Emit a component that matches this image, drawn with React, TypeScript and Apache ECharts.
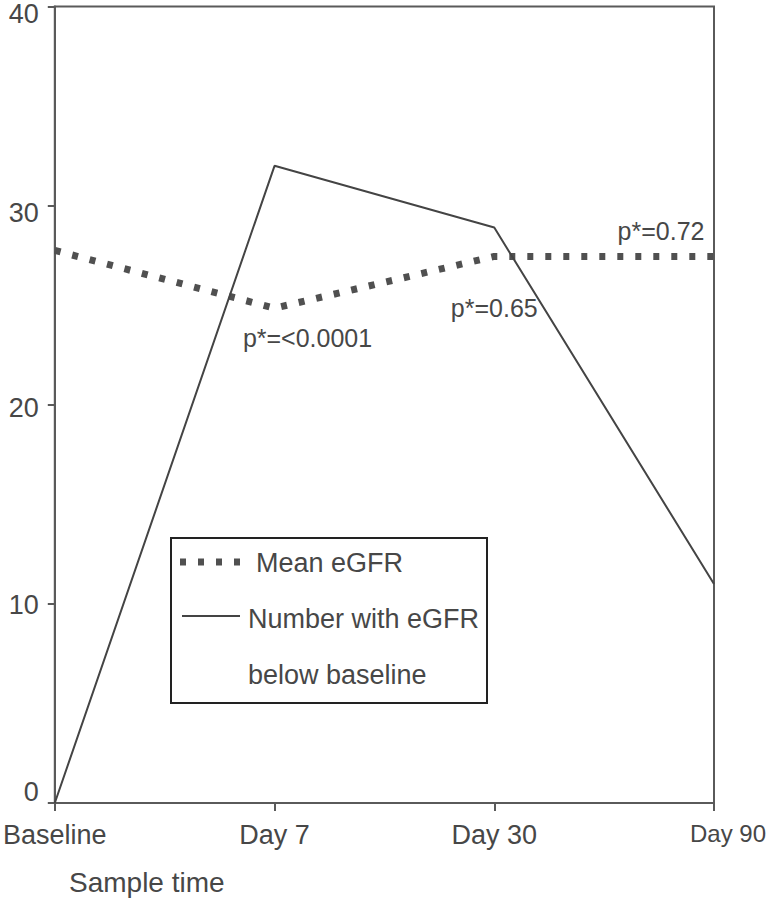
import React, { useEffect, useRef } from "react";
import * as echarts from "echarts";

const categories = ["Baseline", "Day 7", "Day 30", "Day 90"];
const meanEGFR = [27.75, 24.85, 27.45, 27.45];
const numberBelowBaseline = [0, 32, 28.9, 11];
const pLabels = ["", "p*=<0.0001", "p*=0.65", "p*=0.72"];
const yTicks = [0, 10, 20, 30, 40];
const xAxisTitle = "Sample time";

const FONT = "Liberation Sans, Arial, Helvetica, sans-serif";
const TEXT = "#474747";
const AXIS = "#5a5a5a";

export default function App() {
  const ref = useRef<HTMLDivElement>(null);
  useEffect(() => {
    if (!ref.current) return;
    const chart = echarts.init(ref.current, null, { renderer: "svg" });
    const labelOffsets: Record<number, number[]> = { 1: [33, 30], 2: [0, 52], 3: [-53, -25] };
    const yPad: Record<number, string> = { 0: "d", 10: "c", 20: "b", 30: "a", 40: "a" };
    chart.setOption({
      animation: false,
      textStyle: { fontFamily: FONT },
      grid: {
        left: 52,
        right: 56,
        top: 6,
        bottom: 97,
        show: true,
        borderColor: AXIS,
        borderWidth: 2,
        backgroundColor: "transparent",
      },
      xAxis: {
        type: "category",
        boundaryGap: false,
        data: categories.map((c, i) =>
          i === categories.length - 1
            ? { value: c, textStyle: { fontSize: 24, padding: [0, 0, 0, 28] } }
            : c
        ),
        axisLine: { lineStyle: { color: AXIS, width: 2 } },
        axisTick: { show: true, length: 8, lineStyle: { color: AXIS, width: 2 } },
        axisLabel: { fontSize: 27, color: TEXT, margin: 18, fontFamily: FONT, showMaxLabel: true, showMinLabel: true, interval: 0 },
        splitLine: { show: false },
      },
      yAxis: {
        type: "value",
        min: 0,
        max: 40,
        interval: 10,
        axisLine: { show: true, lineStyle: { color: AXIS, width: 2 } },
        axisTick: { show: true, length: 7, lineStyle: { color: AXIS, width: 2 } },
        splitLine: { show: false },
        axisLabel: {
          fontSize: 27,
          color: TEXT,
          margin: 16,
          fontFamily: FONT,
          formatter: (v: number) => (yTicks.includes(v) ? `{${yPad[v]}|${v}}` : ""),
          rich: {
            a: { fontSize: 27, color: TEXT, fontFamily: FONT, padding: [14, 0, 0, 0] },
            b: { fontSize: 27, color: TEXT, fontFamily: FONT, padding: [6, 0, 0, 0] },
            c: { fontSize: 27, color: TEXT, fontFamily: FONT, padding: [2, 0, 0, 0] },
            d: { fontSize: 27, color: TEXT, fontFamily: FONT, padding: [0, 0, 22, 0] },
          },
        },
      },
      series: [
        {
          name: "Mean eGFR",
          type: "line",
          data: meanEGFR.map((v, i) => ({
            value: v,
            label: pLabels[i]
              ? {
                  show: true,
                  formatter: pLabels[i],
                  position: "inside",
                  offset: labelOffsets[i],
                  fontSize: 25,
                  color: TEXT,
                  fontFamily: FONT,
                }
              : { show: false },
          })),
          symbol: "circle",
          symbolSize: 0.1,
          itemStyle: { color: "transparent" },
          lineStyle: { color: "#505050", width: 7, type: [6, 12], cap: "butt" },
          z: 2,
        },
        {
          name: "Number with eGFR below baseline",
          type: "line",
          data: numberBelowBaseline,
          symbol: "none",
          lineStyle: { color: "#444", width: 2 },
          z: 3,
        },
      ],
      graphic: [
        {
          type: "text",
          x: 69,
          y: 882,
          style: { text: xAxisTitle, fontSize: 28, fill: TEXT, fontFamily: FONT, verticalAlign: "middle" },
        },
        {
          type: "rect",
          shape: { x: 171, y: 538, width: 316, height: 165 },
          style: { fill: "#fff", stroke: "#222", lineWidth: 2 },
          z: 10,
        },
        {
          type: "line",
          shape: { x1: 180, y1: 562, x2: 241, y2: 562 },
          style: { stroke: "#505050", lineWidth: 7, lineDash: [6, 12] },
          z: 11,
        },
        {
          type: "text",
          x: 256,
          y: 563,
          style: { text: "Mean eGFR", fontSize: 27, fill: TEXT, fontFamily: FONT, verticalAlign: "middle" },
          z: 11,
        },
        {
          type: "line",
          shape: { x1: 182, y1: 616, x2: 240, y2: 616 },
          style: { stroke: "#444", lineWidth: 2 },
          z: 11,
        },
        {
          type: "text",
          x: 248,
          y: 619,
          style: { text: "Number with eGFR", fontSize: 27, fill: TEXT, fontFamily: FONT, verticalAlign: "middle" },
          z: 11,
        },
        {
          type: "text",
          x: 248,
          y: 675,
          style: { text: "below baseline", fontSize: 27, fill: TEXT, fontFamily: FONT, verticalAlign: "middle" },
          z: 11,
        },
      ],
    });
    return () => chart.dispose();
  }, []);
  return (
    <div
      ref={ref}
      style={{ width: 770, height: 900, position: "fixed", left: 0, top: 0, background: "#fff" }}
    />
  );
}
